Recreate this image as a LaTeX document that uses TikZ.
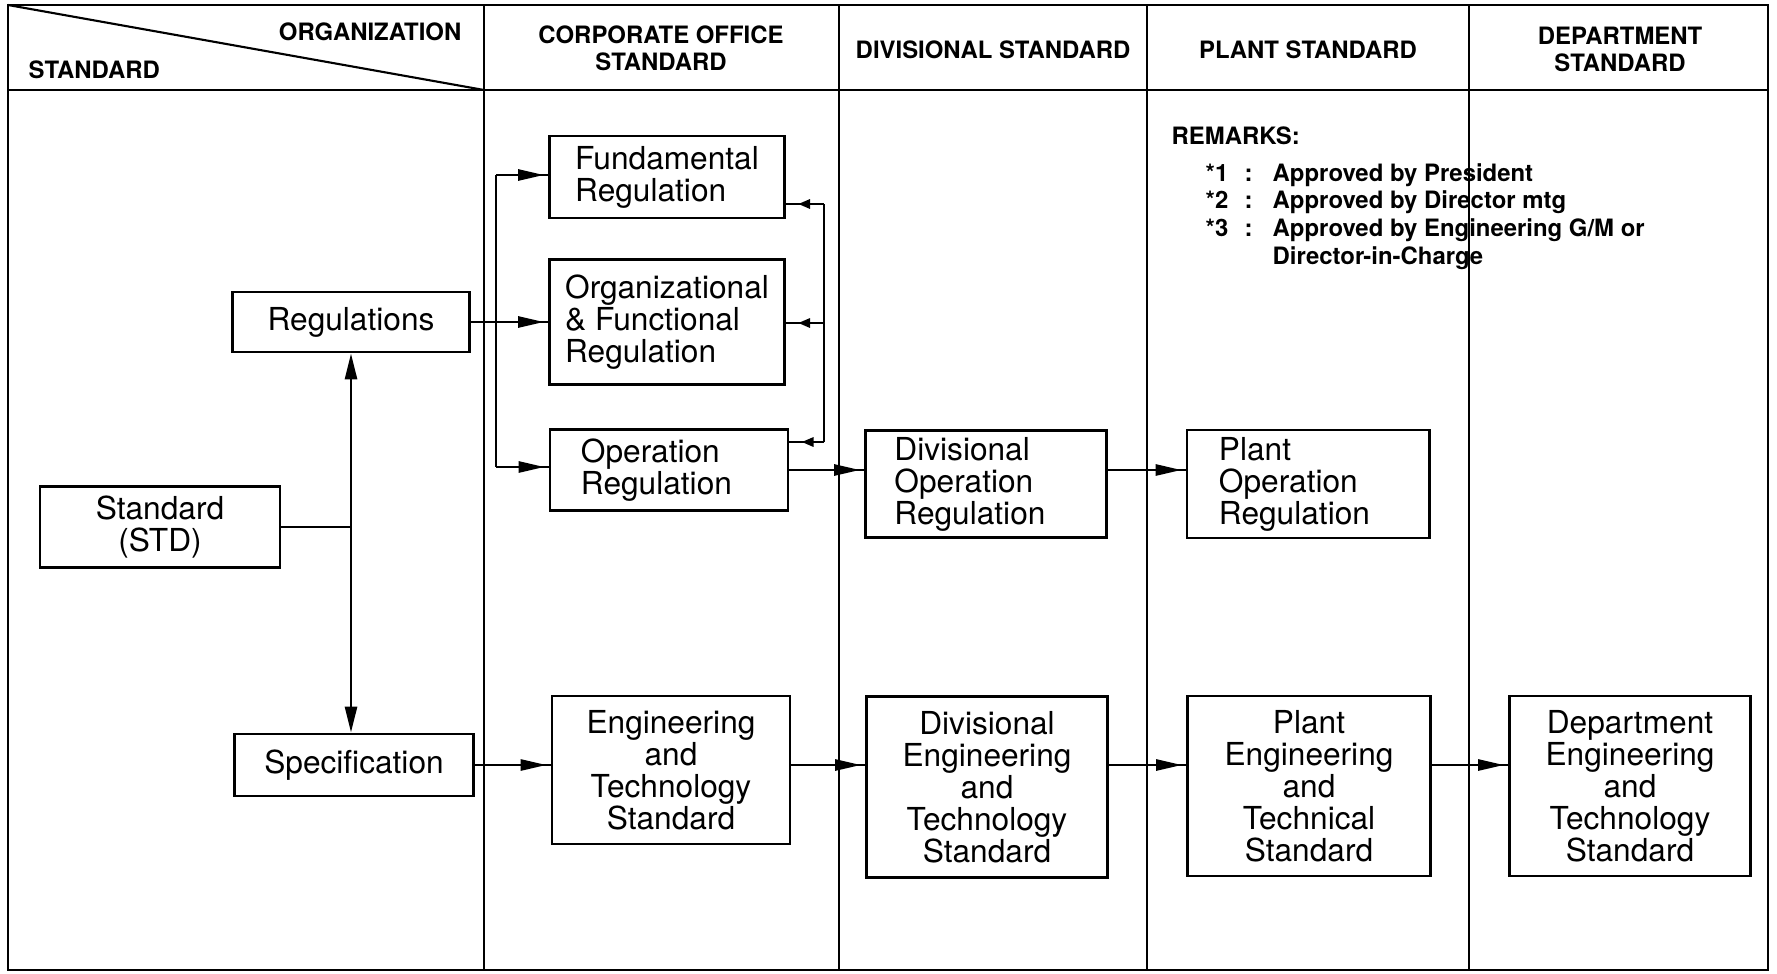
\documentclass[tikz,border=0pt]{standalone}
\usepackage{fontspec}
\setmainfont{TeX Gyre Heros}
\usetikzlibrary{arrows.meta,decorations.markings}
\begin{document}
\begin{tikzpicture}[x=0.01cm,y=-0.01cm,
  frame/.style={line width=0.6pt},
  box/.style={draw,line width=0.8pt,inner sep=0pt,font=\fontsize{9}{9.1}\selectfont},
  lbox/.style={box,align=left},
  cbox/.style={box,align=center},
  head/.style={font=\bfseries\fontsize{6.8}{7.7}\selectfont,align=center,inner sep=0pt},
  note/.style={font=\bfseries\fontsize{6.8}{7.7}\selectfont,inner sep=0pt,anchor=base west},
  link/.style={line width=0.8pt},
  flow/.style={link,decoration={markings,mark=at position -#1 with {\arrow{Triangle[length=0.26cm,width=0.11cm]}}},postaction={decorate}},
  flow/.default=0.04cm,
  back/.style={link,decoration={markings,mark=at position -0.12cm with {\arrow{Triangle[length=0.12cm,width=0.09cm]}}},postaction={decorate}},
  both/.style={link,{Triangle[length=0.26cm,width=0.12cm]}-{Triangle[length=0.26cm,width=0.12cm]}}
]
\path[use as bounding box] (0,0) rectangle (1777,973);

% table frame, header row and column rules
\draw[frame] (8,5) rectangle (1768,970);
\draw[frame] (8,90) -- (1768,90);
\draw[frame] (8,5) -- (484,90);
\foreach \x in {484,839,1147,1469} \draw[frame] (\x,5) -- (\x,970);

% column headings
\node[head,anchor=east] (hOrg) at (462,32) {ORGANIZATION};
\node[head,anchor=west] (hStd) at (28,70) {STANDARD};
\node[head] (hCorp) at (661,48) {CORPORATE OFFICE\\STANDARD};
\node[head] (hDiv) at (993,50) {DIVISIONAL STANDARD};
\node[head] (hPlant) at (1308,50) {PLANT STANDARD};
\node[head] (hDept) at (1620,49) {DEPARTMENT\\STANDARD};

% remarks
\node[note] (rem) at (1171,145) {REMARKS:};
\node[note] (n1) at (1205,181) {*1};
\node[note] (c1) at (1244,181) {:};
\node[note] (t1) at (1272,181) {Approved by President};
\node[note] (n2) at (1205,208) {*2};
\node[note] (c2) at (1244,208) {:};
\node[note] (t2) at (1272,208) {Approved by Director mtg};
\node[note] (n3) at (1205,236) {*3};
\node[note] (c3) at (1244,236) {:};
\node[note] (t3) at (1272,236) {Approved by Engineering G/M or};
\node[note] (t4) at (1272,264) {Director-in-Charge};

% boxes
\node[cbox,minimum width=2.40cm,minimum height=0.81cm] (std) at (160,527) {Standard\\(STD)};
\node[cbox,minimum width=2.37cm,minimum height=0.60cm] (regs) at (351,322) {Regulations};
\node[cbox,minimum width=2.39cm,minimum height=0.62cm] (spec) at (354,765) {Specification};

\node[lbox,minimum width=2.35cm,minimum height=0.82cm] (fund) at (667,177) {Fundamental\\Regulation};
\node[lbox,minimum width=2.35cm,minimum height=1.25cm] (org) at (667,322) {Organizational\\\& Functional\\Regulation};
\node[lbox,text width=1.76cm,minimum width=2.38cm,minimum height=0.81cm] (oper) at (669,470) {Operation\\Regulation};
\node[cbox,minimum width=2.38cm,minimum height=1.48cm] (engtech) at (671,770) {Engineering\\and\\Technology\\Standard};

\node[lbox,text width=1.83cm,minimum width=2.41cm,minimum height=1.07cm] (divop) at (986,484) {Divisional\\Operation\\Regulation};
\node[cbox,minimum width=2.41cm,minimum height=1.81cm] (diveng) at (987,787) {Divisional\\Engineering\\and\\Technology\\Standard};

\node[lbox,text width=1.78cm,minimum width=2.42cm,minimum height=1.08cm] (plantop) at (1308,484) {Plant\\Operation\\Regulation};
\node[cbox,minimum width=2.43cm,minimum height=1.80cm] (planteng) at (1309,786) {Plant\\Engineering\\and\\Technical\\Standard};

\node[cbox,minimum width=2.41cm,minimum height=1.80cm] (depteng) at (1630,786) {Department\\Engineering\\and\\Technology\\Standard};

% standard splits into regulations and specification
\draw[both] (regs.south) -- (regs.south |- spec.north);
\draw[link] (std.east) -- (std.east -| regs.south);

% regulations feed the three corporate regulations
\coordinate (brT) at (496,175);
\coordinate (brB) at (496,467);
\draw[flow] (regs.east) -- (regs.east -| org.west);
\draw[link] (brT) -- (brB);
\draw[flow] (brT) -- (brT -| fund.west);
\draw[flow] (brB) -- (brB -| oper.west);

% return links on the right of the corporate regulations
\coordinate (fbT) at (824,204);
\coordinate (fbM) at (824,323);
\coordinate (fbB) at (824,442);
\draw[link] (fbT) -- (fbB);
\draw[back] (fbT) -- (fbT -| fund.east);
\draw[back] (fbM) -- (fbM -| org.east);
\draw[back] (fbB) -- (fbB -| oper.east);

% operation regulation chain
\draw[flow] (oper.east) -- (oper.east -| divop.west);
\draw[flow] (oper.east -| divop.east) -- (oper.east -| plantop.west);

% engineering standard chain
\draw[flow] (spec.east) -- (spec.east -| engtech.west);
\draw[flow] (spec.east -| engtech.east) -- (spec.east -| diveng.west);
\draw[flow] (spec.east -| diveng.east) -- (spec.east -| planteng.west);
\draw[flow] (spec.east -| planteng.east) -- (spec.east -| depteng.west);
\end{tikzpicture}
\end{document}
